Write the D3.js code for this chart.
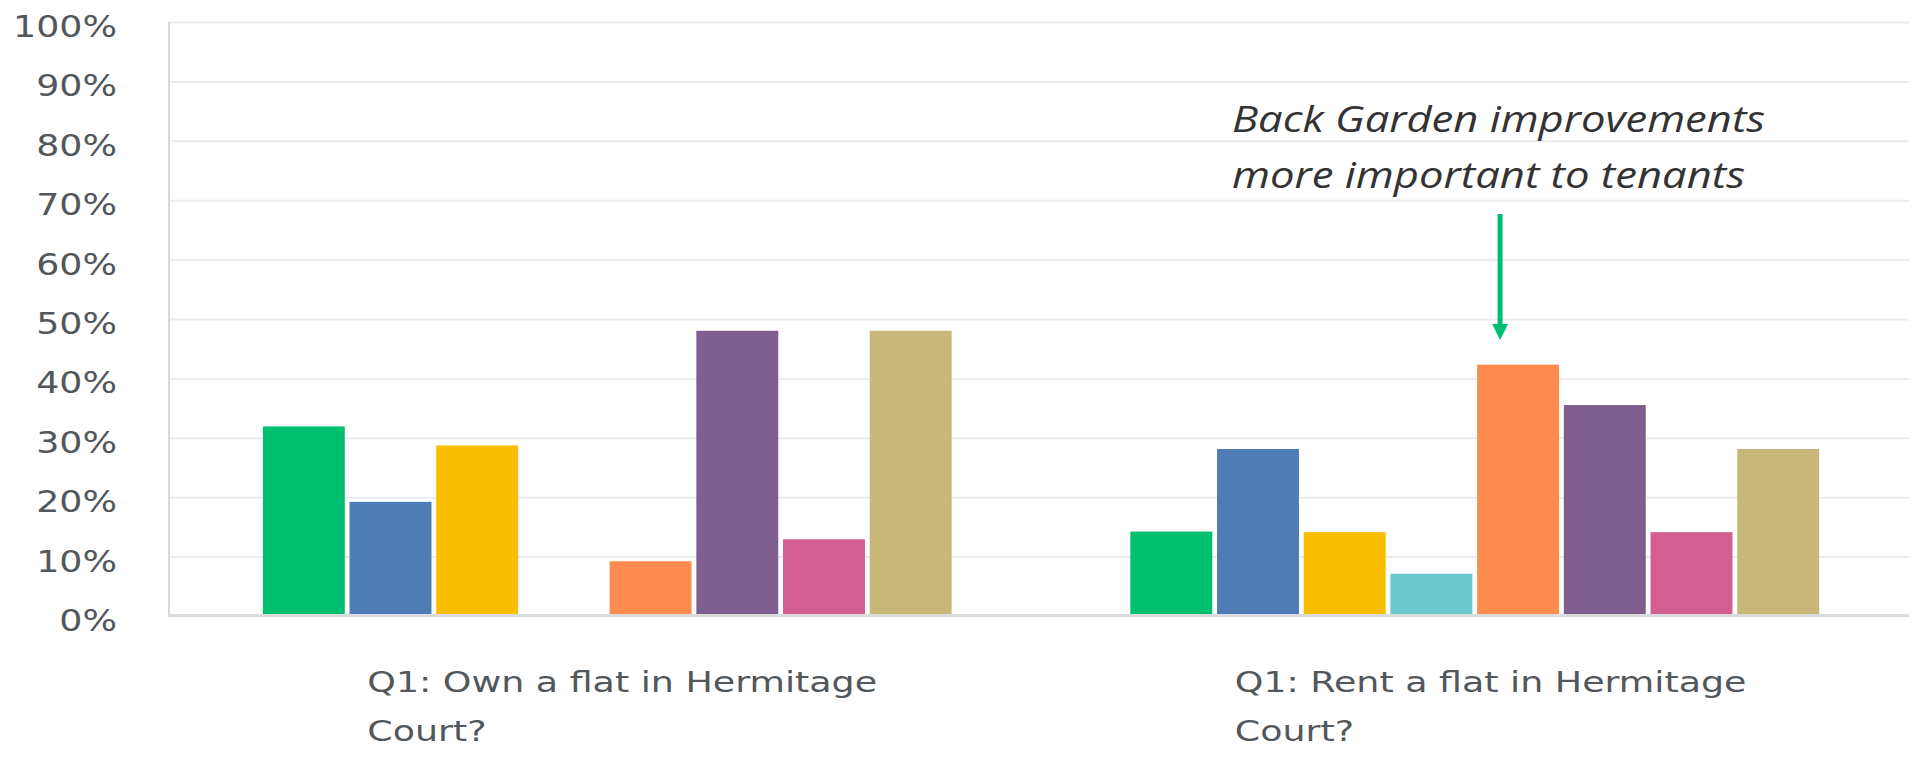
<!DOCTYPE html>
<html>
<head>
<meta charset="utf-8">
<script src="https://cdn.jsdelivr.net/npm/d3@7"></script>
<style>
  html, body { margin: 0; padding: 0; background: #ffffff; }
  svg { display: block; }
</style>
</head>
<body>
<svg id="chart" width="1921" height="758"></svg>
<script>
// ---- data ----
const categories = ["Q1: Own a flat in Hermitage Court?", "Q1: Rent a flat in Hermitage Court?"];
const categoryLines = [["Q1: Own a flat in Hermitage", "Court?"], ["Q1: Rent a flat in Hermitage", "Court?"]];
const seriesNames = ["Option 1", "Option 2", "Option 3", "Option 4", "Option 5", "Option 6", "Option 7", "Option 8"];
const ownValues  = [32.0, 19.3, 28.8, 0, 9.3, 48.1, 13.0, 48.1];
const rentValues = [14.3, 28.2, 14.2, 7.2, 42.4, 35.6, 14.2, 28.2];
const seriesColors = ["#00bf6f", "#507cb6", "#f9be00", "#6bc8cd", "#ff8b4f", "#7f5f90", "#d25f90", "#c7b879"];
const yTicks = [0, 10, 20, 30, 40, 50, 60, 70, 80, 90, 100];
const annotationLines = ["Back Garden improvements", "more important to tenants"];

const valuesByCategory = [ownValues, rentValues];

// ---- layout ----
const svg = d3.select("#chart");
const plotLeft = 168, plotRight = 1909;

const x0 = d3.scaleBand().domain(categories).range([173.5, 1908.5])
  .paddingInner(0.206).paddingOuter(0.103);
const x1 = d3.scaleBand().domain(seriesNames).range([0, x0.bandwidth()]).paddingInner(0.055);
const y = d3.scaleLinear().domain([0, 100]).range([616.5, 22.5]);

// gridlines
svg.append("g").selectAll("line").data(yTicks.filter(d => d > 0)).join("line")
  .attr("x1", plotLeft).attr("x2", plotRight)
  .attr("y1", d => y(d)).attr("y2", d => y(d))
  .attr("stroke", "#ececec").attr("stroke-width", 2);

// left axis line
svg.append("line").attr("x1", plotLeft + 1).attr("x2", plotLeft + 1)
  .attr("y1", y(100)).attr("y2", y(0))
  .attr("stroke", "#d6d8da").attr("stroke-width", 2);

// bars
const groups = svg.append("g").selectAll("g").data(categories).join("g")
  .attr("transform", d => `translate(${x0(d)},0)`);
groups.selectAll("rect")
  .data((c, i) => seriesNames.map((s, j) => ({ s, v: valuesByCategory[i][j], color: seriesColors[j] })))
  .join("rect")
  .attr("x", d => x1(d.s))
  .attr("width", x1.bandwidth())
  .attr("y", d => y(d.v))
  .attr("height", d => y(0) - y(d.v))
  .attr("fill", d => d.color);

// baseline
svg.append("line").attr("x1", plotLeft).attr("x2", plotRight)
  .attr("y1", y(0) - 1).attr("y2", y(0) - 1)
  .attr("stroke", "#d9dbdc").attr("stroke-width", 3);

// y axis labels
const yAxisG = svg.append("g").attr("transform", "translate(126,0)")
  .call(d3.axisLeft(y).tickValues(yTicks).tickFormat(d => d + "%").tickSize(0).tickPadding(9));
yAxisG.select(".domain").remove();
const tickTexts = yAxisG.selectAll("text")
  .attr("font-family", "'DejaVu Sans', sans-serif")
  .attr("font-size", 31)
  .attr("fill", "#52575c")
  .attr("dy", "0.45em");
let refLen = 0;
tickTexts.each(function(d) { if (d === 100) refLen = this.getComputedTextLength(); });
const kx = refLen ? 104 / refLen : 1.15;
tickTexts.attr("x", -9 / kx).attr("transform", `scale(${kx},1)`);

// category labels
const catG = svg.append("g").selectAll("g").data(categories).join("g")
  .attr("transform", d => `translate(${x0(d) + x0.bandwidth() / 2 - 240},0)`);
const catTexts = catG.selectAll("text")
  .data((c, i) => categoryLines[i].map((t, k) => ({ t, k })))
  .join("text")
  .attr("x", 0)
  .attr("y", d => 692 + d.k * 49)
  .attr("font-family", "'DejaVu Sans', sans-serif")
  .attr("font-size", 28)
  .attr("fill", "#52575c")
  .text(d => d.t);
const firstLen = catTexts.nodes()[0].getComputedTextLength();
const kc = 510 / firstLen;
catTexts.attr("transform", `scale(${kc},1)`);

// annotation
const ann = svg.append("g");
ann.selectAll("text").data(annotationLines).join("text")
  .attr("x", 1232)
  .attr("y", (d, i) => 132 + i * 56)
  .attr("font-family", "'Open Sans', sans-serif")
  .attr("font-style", "italic")
  .attr("font-size", 37)
  .attr("fill", "#333333")
  .attr("textLength", (d, i) => i === 0 ? 533 : 513)
  .attr("lengthAdjust", "spacingAndGlyphs")
  .text(d => d);

// arrow pointing to rent/orange bar
const arrowX = x0(categories[1]) + x1(seriesNames[4]) + x1.bandwidth() / 2 - 18;
ann.append("line")
  .attr("x1", arrowX).attr("x2", arrowX)
  .attr("y1", 214).attr("y2", 326)
  .attr("stroke", "#00bf6f").attr("stroke-width", 5);
ann.append("path")
  .attr("d", `M${arrowX - 8},324 L${arrowX + 8},324 L${arrowX},340 Z`)
  .attr("fill", "#00bf6f");
</script>
</body>
</html>
